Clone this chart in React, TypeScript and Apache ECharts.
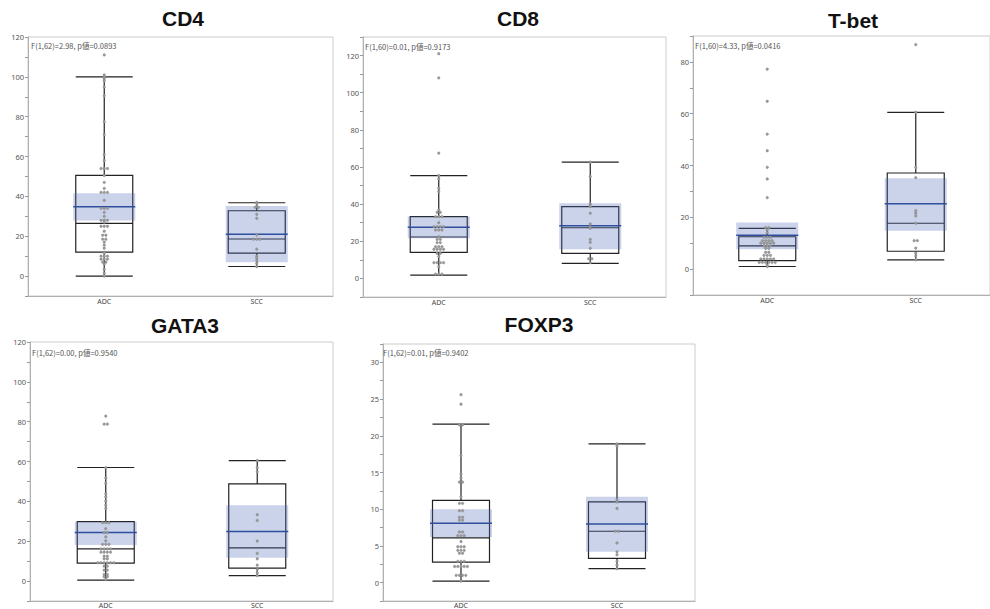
import React, { useEffect, useRef } from "react";
import * as echarts from "echarts";

// ---------- data ----------
const categories = ["ADC", "SCC"];
const panelTitles = ["CD4", "CD8", "T-bet", "GATA3", "FOXP3"];
const statLabels = [
  "F(1,62)=2.98, p値=0.0893",
  "F(1,60)=0.01, p値=0.9173",
  "F(1,60)=4.33, p値=0.0416",
  "F(1,62)=0.00, p値=0.9540",
  "F(1,62)=0.01, p値=0.9402",
];

// box: [min, Q1, median, Q3, max] for ADC, SCC
const cd4Box = [[0, 12, 26.5, 50.5, 100], [4.8, 11.5, 18.6, 32.8, 36.8]];
const cd4Mean = [34.8, 21];
const cd4CI = [[27.9, 41.6], [7.0, 35.2]];
const cd4Adc = [111, 101, 100, 99, 98, 95, 90.5, 77.5, 71, 61, 58, 54, 54, 54, 50.5, 47, 44, 42, 42, 42, 38, 34, 34, 34, 32, 30, 28, 28, 28, 27, 25, 25, 25, 22.5, 20.5, 20.5, 18.5, 18.5, 17, 15.5, 14, 12, 11.5, 10, 10, 10, 8.5, 8.5, 8.5, 7, 7, 6, 3.5, 1.5, 0];
const cd4Scc = [37, 36.5, 35, 34.5, 34.5, 31, 29, 20.7, 18.5, 18.5, 18.5, 13.5, 10, 9, 7.8, 6.3, 4.8];

const cd8Box = [[1.8, 14, 22.3, 33.3, 55.4], [8.1, 13.5, 27.3, 38.7, 62.6]];
const cd8Mean = [27.5, 28.4];
const cd8CI = [[21.6, 33.3], [15.7, 40.5]];
const cd8Adc = [121, 108, 67.5, 55.4, 53.6, 48.6, 46.8, 36.9, 35.6, 35.6, 33.3, 33.3, 33.3, 30, 27.9, 27.9, 27.9, 27.9, 26.1, 26.1, 26.1, 22.5, 21, 21, 19.3, 19.3, 17.1, 17.1, 17.1, 15.7, 15.7, 15.7, 15.7, 13.5, 13.5, 11.7, 8.5, 8.5, 8.5, 8.5, 6.3, 2.3, 2.3, 2.3];
const cd8Scc = [62.6, 54.9, 40.1, 38.7, 35.1, 29.3, 27.9, 27, 21, 19.4, 16.2, 10.6, 10.6, 8.5];

const tbetBox = [[1.0, 3.3, 9.0, 12.5, 15.7], [3.6, 6.9, 17.7, 37.1, 60.5]];
const tbetMean = [13.1, 25.2];
const tbetCI = [[7.7, 18.0], [14.8, 35.1]];
const tbetAdc = [77.2, 64.8, 52.1, 45.7, 39.3, 34.8, 27.6, 16, 16, 15.2, 14.1, 12.3, 12.3, 12.3, 11, 11, 11, 11, 10, 10, 10, 10, 10, 9, 9, 9, 8, 8, 6.5, 6.5, 5.3, 5.3, 5.3, 3.9, 3.9, 3.9, 3.9, 3.9, 2.6, 2.6, 2.6, 2.6, 2.6, 2.6, 1.5, 1.0];
const tbetScc = [86.7, 60.5, 39.3, 35.3, 22.6, 21.6, 20.5, 17.7, 11, 11, 8.1, 6.2, 5.1, 3.6];

const gata3Box = [[0.5, 9.0, 16.2, 29.8, 57.0], [2.7, 6.5, 16.7, 48.8, 60.5]];
const gata3Mean = [24.4, 24.9];
const gata3CI = [[18.1, 29.8], [11.7, 38.0]];
const gata3Adc = [82.8, 78.8, 78.8, 56.9, 51.7, 49, 43.8, 42.3, 40.1, 38.1, 36.5, 29.3, 29.3, 29.3, 26.3, 24.3, 24.3, 22.2, 20.2, 18.4, 18.4, 18.4, 16.2, 16.2, 16.2, 16.2, 14.5, 14.5, 14.5, 14.5, 12.5, 12.5, 11.2, 11.2, 9.2, 9.2, 9.2, 9.2, 9.2, 9.2, 7.5, 7.5, 5.5, 5.5, 3.3, 3.3, 2.2, 2.2, 0.8];
const gata3Scc = [60.5, 56.9, 54.8, 33.3, 30.4, 20.1, 13.9, 11.2, 8.0, 5.9, 4.2, 2.8];

const foxp3Box = [[0.2, 2.8, 6.1, 11.2, 21.6], [1.9, 3.3, 7.0, 11.0, 18.9]];
const foxp3Mean = [8.1, 8.0];
const foxp3CI = [[6.2, 10.0], [4.2, 11.7]];
const foxp3Adc = [25.6, 24.3, 21.5, 21.5, 17.3, 14.8, 14.3, 13.7, 13.7, 11.7, 10.8, 10.8, 9.8, 9.8, 8.9, 8.9, 8.5, 8.5, 6.9, 6.9, 6.4, 6.4, 6.4, 5.6, 4.9, 4.9, 4.9, 4.4, 4.4, 4.4, 4.0, 4.0, 2.9, 2.9, 2.9, 2.2, 2.2, 2.2, 2.2, 2.2, 1.0, 1.0, 1.0, 1.0, 0.2];
const foxp3Scc = [18.9, 18.6, 11.3, 11.0, 10.1, 7.0, 7.0, 5.4, 4.2, 3.8, 2.9, 2.4, 1.9];

// y-axis ranges: [min, max, tickInterval, labelStep]
const yRanges = [
  [-10, 120, 10, 20],
  [-10, 130, 10, 20],
  [-10, 90, 10, 20],
  [-10, 120, 10, 20],
  [-2.5, 32.5, 2.5, 5],
];

// ---------- layout ----------
const gridRects = [
  { left: 28, top: 37, width: 305, height: 259 },
  { left: 363, top: 37, width: 303, height: 260 },
  { left: 693, top: 36, width: 313, height: 259 },
  { left: 30, top: 342, width: 303, height: 260 },
  { left: 383, top: 344, width: 312, height: 258 },
];
const titlePos = [[183, 18], [518, 18], [853, 20], [185, 325], [539, 324]];
const statPos = [[31, 45], [365, 46], [695, 45], [32, 352], [383, 352]];

const panelData = [
  { box: cd4Box, mean: cd4Mean, ci: cd4CI, dots: [cd4Adc, cd4Scc] },
  { box: cd8Box, mean: cd8Mean, ci: cd8CI, dots: [cd8Adc, cd8Scc] },
  { box: tbetBox, mean: tbetMean, ci: tbetCI, dots: [tbetAdc, tbetScc] },
  { box: gata3Box, mean: gata3Mean, ci: gata3CI, dots: [gata3Adc, gata3Scc] },
  { box: foxp3Box, mean: foxp3Mean, ci: foxp3CI, dots: [foxp3Adc, foxp3Scc] },
];

const DOT_GAP = 3.2;

function swarm(values: number[], cat: number) {
  const counts: Record<string, number> = {};
  values.forEach((v) => (counts[String(v)] = (counts[String(v)] || 0) + 1));
  const seen: Record<string, number> = {};
  return values.map((v) => {
    const key = String(v);
    const k = seen[key] || 0;
    seen[key] = k + 1;
    const n = counts[key];
    return [cat, v, (k - (n - 1) / 2) * DOT_GAP];
  });
}

function buildOption() {
  const grid: any[] = [];
  const xAxis: any[] = [];
  const yAxis: any[] = [];
  const series: any[] = [];
  const graphic: any[] = [];

  panelData.forEach((p, i) => {
    const [ymin, ymax, yint, lstep] = yRanges[i];
    grid.push({
      ...gridRects[i],
      show: true,
      borderColor: "#cccccc",
      borderWidth: 1,
      backgroundColor: "#fff",
    });
    xAxis.push({
      type: "category",
      gridIndex: i,
      data: categories,
      axisLine: { show: true, onZero: false, lineStyle: { color: "#b0b0b0" } },
      axisTick: { show: false },
      axisLabel: {
        fontSize: 7,
        color: "#444",
        margin: i < 3 ? 2 : 1,
        fontFamily: "Noto Sans",
      },
      splitLine: { show: false },
    });
    yAxis.push({
      type: "value",
      gridIndex: i,
      min: ymin,
      max: ymax,
      interval: yint,
      axisLine: { show: true, lineStyle: { color: "#b0b0b0" } },
      axisTick: { show: true, length: 3, lineStyle: { color: "#999" } },
      axisLabel: {
        fontSize: 7.5,
        color: "#555",
        margin: 4,
        fontFamily: "Noto Sans",
        formatter: (v: number) => {
          const r = v / lstep;
          return v >= 0 && Math.abs(r - Math.round(r)) < 1e-6 ? String(v) : "";
        },
      },
      splitLine: { show: false },
    });

    series.push({
      type: "boxplot",
      xAxisIndex: i,
      yAxisIndex: i,
      data: p.box,
      boxWidth: [57, 57],
      itemStyle: { color: "#fff", borderColor: "#222", borderWidth: 1.2 },
      z: 2,
    });

    series.push({
      type: "custom",
      xAxisIndex: i,
      yAxisIndex: i,
      z: 3,
      data: p.ci.map((c, k) => [k, c[0], c[1], p.mean[k]]),
      encode: { x: 0, y: [1, 2, 3] },
      renderItem: (params: any, api: any) => {
        const idx = api.value(0);
        const lo = api.coord([idx, api.value(1)]);
        const hi = api.coord([idx, api.value(2)]);
        const mn = api.coord([idx, api.value(3)]);
        const hw = 31;
        return {
          type: "group",
          children: [
            {
              type: "rect",
              shape: { x: hi[0] - hw, y: hi[1], width: hw * 2, height: lo[1] - hi[1] },
              style: { fill: "rgba(80,110,185,0.30)" },
            },
            {
              type: "line",
              shape: { x1: mn[0] - hw, y1: mn[1], x2: mn[0] + hw, y2: mn[1] },
              style: { stroke: "#2e4e9e", lineWidth: 1.5 },
            },
          ],
        };
      },
    });

    const dotData = [...swarm(p.dots[0], 0), ...swarm(p.dots[1], 1)];
    series.push({
      type: "custom",
      xAxisIndex: i,
      yAxisIndex: i,
      z: 4,
      data: dotData,
      encode: { x: 0, y: 1 },
      renderItem: (params: any, api: any) => {
        const pt = api.coord([api.value(0), api.value(1)]);
        return {
          type: "circle",
          shape: { cx: pt[0] + api.value(2), cy: pt[1], r: 1.35 },
          style: { fill: "#9a9a9a", stroke: "#7a7a7a", lineWidth: 0.3 },
        };
      },
    });

    graphic.push({
      type: "text",
      x: titlePos[i][0],
      y: titlePos[i][1],
      z: 10,
      style: {
        text: panelTitles[i],
        font: 'bold 21px "Liberation Sans", Arial, sans-serif',
        fill: "#111",
        textAlign: "center",
        textVerticalAlign: "middle",
        align: "center",
        verticalAlign: "middle",
      },
    });
    graphic.push({
      type: "text",
      x: statPos[i][0],
      y: statPos[i][1],
      z: 10,
      style: {
        text: statLabels[i],
        font: '7.5px "Noto Sans CJK JP", sans-serif',
        fill: "#555",
        textAlign: "left",
        textVerticalAlign: "middle",
        align: "left",
        verticalAlign: "middle",
      },
    });
  });

  return {
    animation: false,
    backgroundColor: "#fff",
    grid,
    xAxis,
    yAxis,
    series,
    graphic,
  };
}

export default function App() {
  const ref = useRef<HTMLDivElement>(null);
  useEffect(() => {
    if (!ref.current) return;
    const chart = echarts.init(ref.current, null, { renderer: "svg" });
    chart.setOption(buildOption() as any);
    return () => chart.dispose();
  }, []);
  return (
    <div
      ref={ref}
      style={{ position: "fixed", left: 0, top: 0, width: 990, height: 609, background: "#fff" }}
    />
  );
}
